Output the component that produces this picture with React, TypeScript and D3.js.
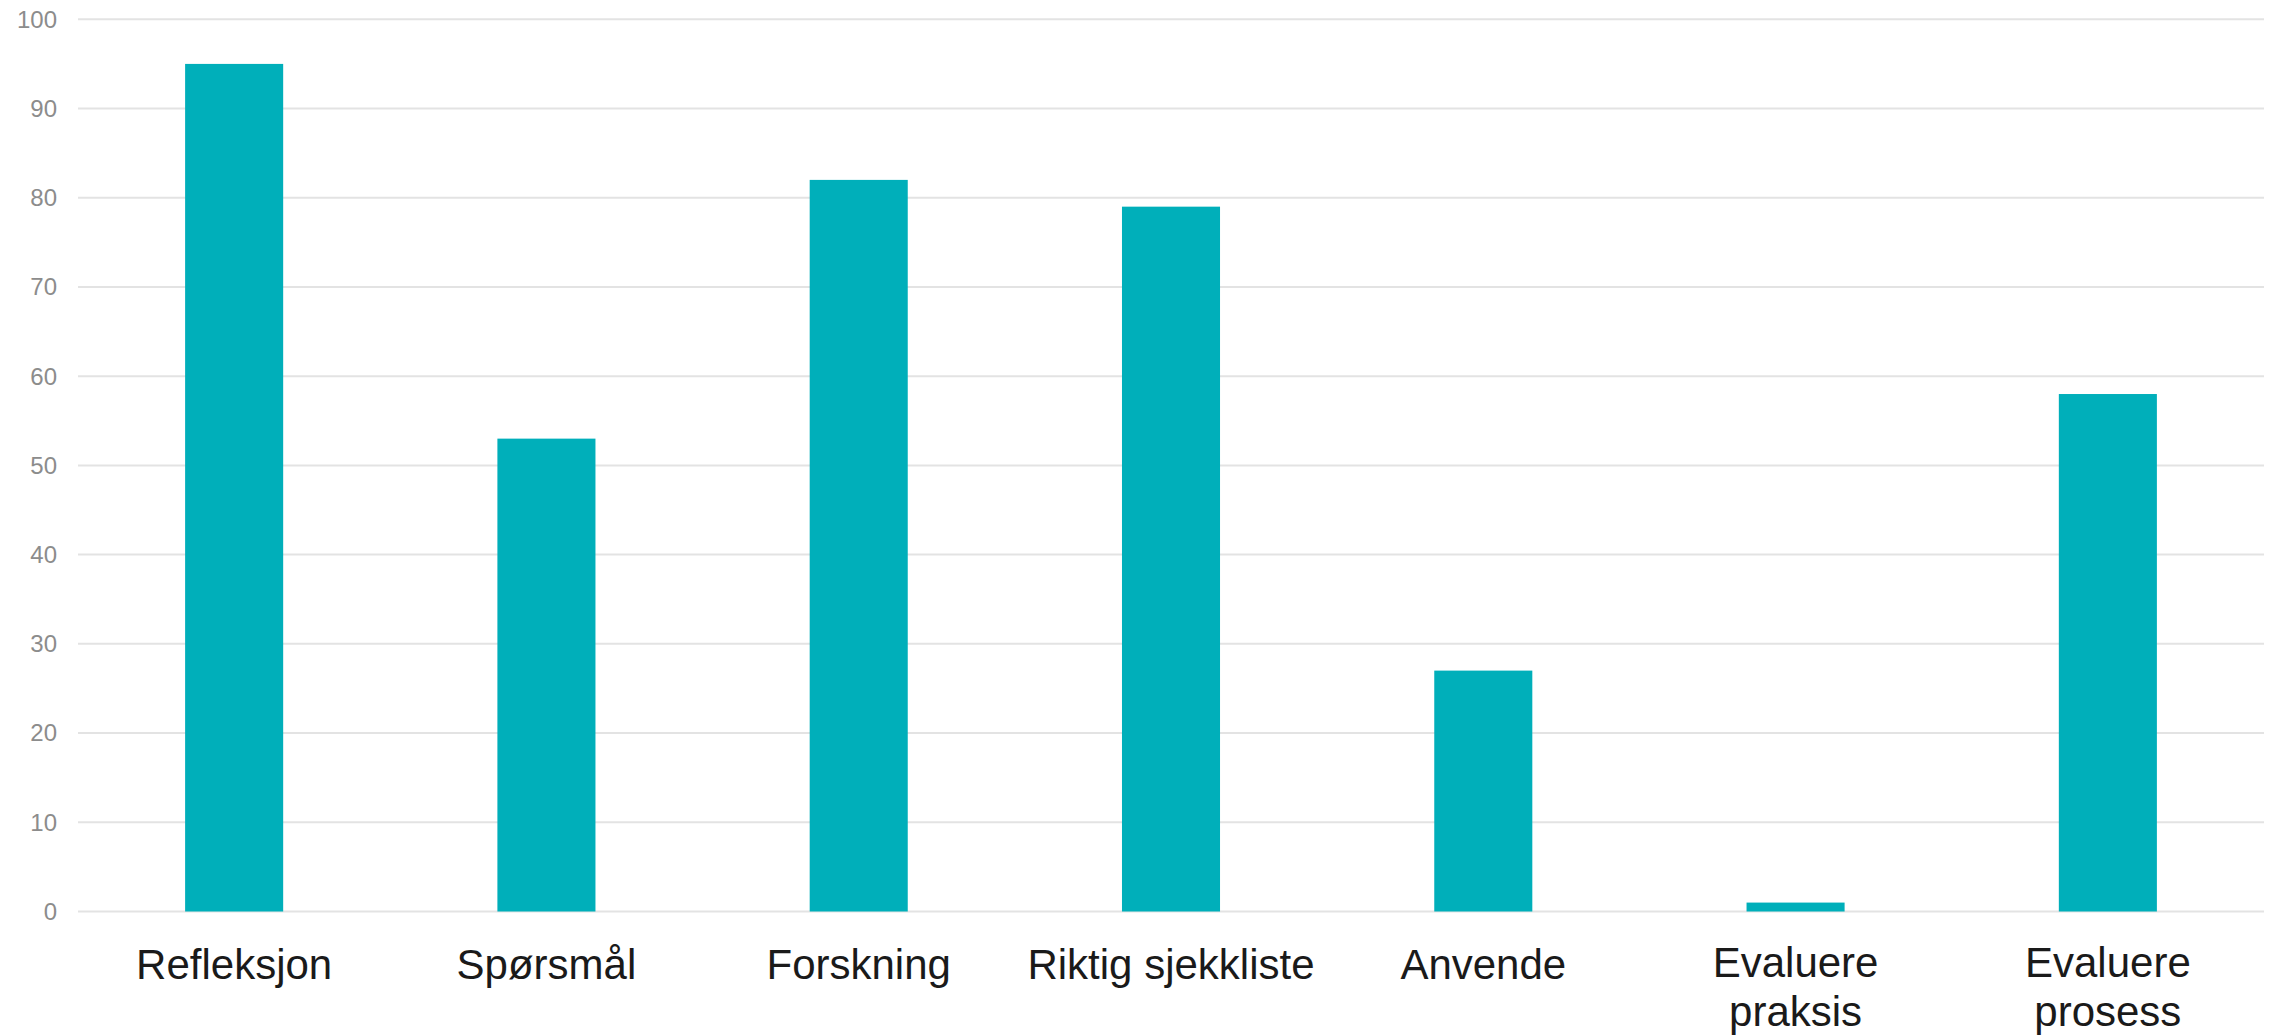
import React from "react";
import * as d3 from "d3";

const categories: string[][] = [
  ["Refleksjon"],
  ["Spørsmål"],
  ["Forskning"],
  ["Riktig sjekkliste"],
  ["Anvende"],
  ["Evaluere", "praksis"],
  ["Evaluere", "prosess"],
];
const values: number[] = [95, 53, 82, 79, 27, 1, 58];
const yTicks: number[] = [0, 10, 20, 30, 40, 50, 60, 70, 80, 90, 100];

const W = 2272;
const H = 1036;
const left = 78;
const right = 2264;
const top = 19.3;
const bottom = 911.5;

export default function App() {
  const keys = categories.map((c) => c.join(" "));
  const x = d3.scaleBand<string>().domain(keys).range([left, right]).paddingInner(0.686).paddingOuter(0.343);
  const y = d3.scaleLinear().domain([0, 100]).range([bottom, top]);
  return (
    <svg
      width={W}
      height={H}
      style={{ position: "absolute", left: 0, top: 0, background: "#fff" }}
      fontFamily="Liberation Sans, Arial, sans-serif"
    >
      {yTicks.map((t) => (
        <g key={t}>
          <line x1={left} x2={right} y1={y(t)} y2={y(t)} stroke="#e3e3e3" strokeWidth={2} />
          <text x={57} y={y(t)} dy="0.35em" textAnchor="end" fontSize={24} fill="#8c8c8c">
            {t}
          </text>
        </g>
      ))}
      {values.map((v, i) => (
        <rect
          key={keys[i]}
          x={x(keys[i])}
          width={x.bandwidth()}
          y={y(v)}
          height={y(0) - y(v)}
          fill="#00afba"
        />
      ))}
      {categories.map((lines, i) => {
        const cx = (x(keys[i]) as number) + x.bandwidth() / 2;
        return (
          <text
            key={keys[i]}
            x={cx}
            y={lines.length > 1 ? 977 : 979}
            textAnchor="middle"
            fontSize={42}
            fill="#1a1a1a"
          >
            {lines.map((l, j) => (
              <tspan key={j} x={cx} dy={j === 0 ? 0 : 49}>
                {l}
              </tspan>
            ))}
          </text>
        );
      })}
    </svg>
  );
}
